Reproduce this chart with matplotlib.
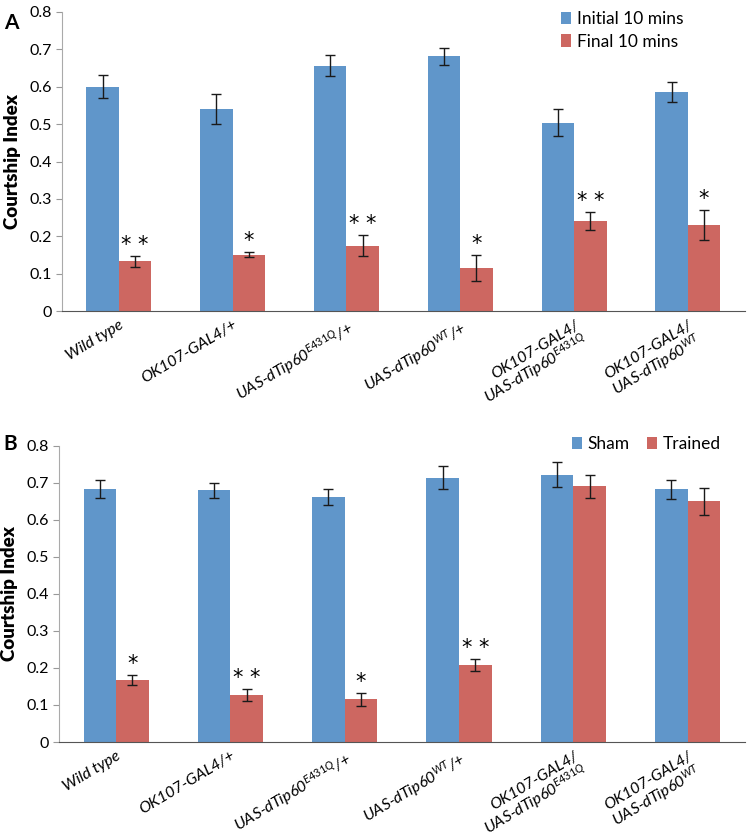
import numpy as np
import matplotlib
matplotlib.use('Agg')
import matplotlib.pyplot as plt

plt.rcParams['font.family'] = ['Lato', 'DejaVu Sans']
plt.rcParams['mathtext.fontset'] = 'custom'
plt.rcParams['mathtext.rm'] = 'Lato'
plt.rcParams['mathtext.it'] = 'Lato:italic'

# data
genotypes = ['Wild type', 'OK107-GAL4/+', r'UAS-dTip60$^{\mathit{E431Q}}$/+',
             r'UAS-dTip60$^{\mathit{WT}}$/+', 'OK107-GAL4/\n' + r'UAS-dTip60$^{\mathit{E431Q}}$',
             'OK107-GAL4/\n' + r'UAS-dTip60$^{\mathit{WT}}$']

a_initial = [0.600, 0.541, 0.656, 0.681, 0.504, 0.586]
a_initial_err = [0.031, 0.040, 0.028, 0.024, 0.037, 0.028]
a_final = [0.133, 0.151, 0.175, 0.114, 0.241, 0.230]
a_final_err = [0.014, 0.006, 0.028, 0.035, 0.024, 0.039]
a_stars = ['**', '*', '**', '*', '**', '*']

b_sham = [0.683, 0.680, 0.661, 0.714, 0.722, 0.682]
b_sham_err = [0.024, 0.020, 0.022, 0.032, 0.034, 0.025]
b_trained = [0.167, 0.126, 0.115, 0.208, 0.691, 0.650]
b_trained_err = [0.013, 0.016, 0.017, 0.015, 0.031, 0.036]
b_stars = ['*', '**', '*', '**', '', '']

blue = '#6096CA'
red = '#CD6761'

fig = plt.figure(figsize=(7.47, 8.39), dpi=100)
axA = fig.add_axes([0.083, 0.6293, 0.914, 0.3564])
axB = fig.add_axes([0.079, 0.1156, 0.918, 0.3532])


def draw(ax, s1, e1, s2, e2, stars, names, legend_kw):
    x = np.arange(len(genotypes))
    w = 0.285
    ax.bar(x - w / 2, s1, w, color=blue, label=names[0])
    ax.bar(x + w / 2, s2, w, color=red, label=names[1])
    ax.errorbar(x - w / 2, s1, yerr=e1, fmt='none', ecolor='#1a1a1a', elinewidth=1, capsize=3.5, capthick=1)
    ax.errorbar(x + w / 2, s2, yerr=e2, fmt='none', ecolor='#1a1a1a', elinewidth=1, capsize=3.5, capthick=1)
    for i in range(len(x)):
        if stars[i]:
            ax.text(x[i] + w / 2, s2[i] + e2[i] + 0.003, ' '.join(stars[i]), ha='center', va='bottom',
                    fontsize=15, family='DejaVu Sans')
    ax.set_xlim(-0.5, len(x) - 0.5)
    ax.set_ylim(0, 0.8)
    ax.set_yticks(np.arange(0, 0.81, 0.1))
    ax.set_yticklabels(['0'] + ['%.1f' % v for v in np.arange(0.1, 0.81, 0.1)], fontsize=11.5)
    ax.set_xticks(x)
    ax.set_xticklabels(genotypes, rotation=31, ha='right', rotation_mode='anchor', fontsize=11.5, style='italic',
                       linespacing=1.0)
    ax.tick_params(axis='x', length=0, pad=5)
    ax.tick_params(axis='y', length=4, color='#999999', direction='out')
    ax.spines['top'].set_visible(False)
    ax.spines['right'].set_visible(False)
    ax.spines['left'].set_color('#aaaaaa')
    ax.spines['bottom'].set_color('#555555')
    ax.set_ylabel('Courtship Index', fontsize=13.5, fontweight='heavy', labelpad=6)
    ax.legend(frameon=False, fontsize=12.5, handlelength=0.6, handleheight=0.7, handletextpad=0.3,
              borderaxespad=0, **legend_kw)


draw(axA, a_initial, a_initial_err, a_final, a_final_err, a_stars, ['Initial 10 mins', 'Final 10 mins'],
     dict(loc='upper right', bbox_to_anchor=(0.92, 1.025), ncol=1, labelspacing=0.35))
draw(axB, b_sham, b_sham_err, b_trained, b_trained_err, b_stars, ['Sham', 'Trained'],
     dict(loc='upper right', bbox_to_anchor=(0.975, 1.055), ncol=2, columnspacing=1.0))

fig.text(0.005, 0.985, 'A', fontsize=15, fontweight='bold', va='top')
fig.text(0.005, 0.483, 'B', fontsize=15, fontweight='bold', va='top')

fig.savefig('out.png', dpi=100)
